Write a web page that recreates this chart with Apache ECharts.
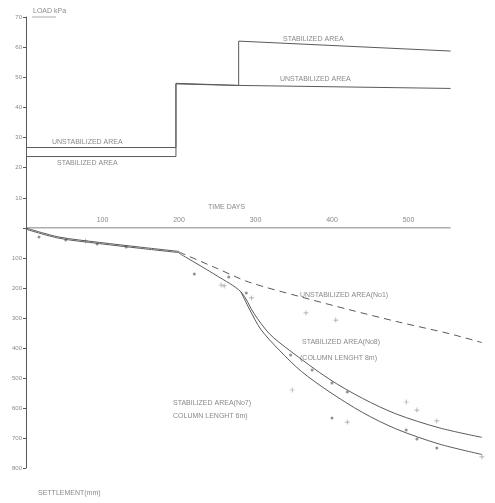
<!DOCTYPE html>
<html>
<head>
<meta charset="utf-8">
<script src="https://cdn.jsdelivr.net/npm/echarts@6/dist/echarts.min.js"></script>
<style>
  html, body { margin: 0; padding: 0; background: #fff; }
  #chart { width: 495px; height: 503px; }
</style>
</head>
<body>
<div id="chart"></div>
<script>
// load (kPa) vs time (days)
const loadUnstab = [[0, 26.7], [196, 26.7], [196, 48], [278, 47.3], [555, 46.3]];
const loadStab = [[0, 23.7], [196, 23.7], [196, 47.8], [278, 47.3], [278, 62], [555, 58.7]];
const timeLine = [[0, 0], [555, 0]];

// settlement (mm) vs time (days)
const settleEarlyA = [[0, 0], [43, 30], [96, 48], [150, 64], [200, 78]];
const settleEarlyB = [[0, 4], [43, 34], [96, 52], [150, 68], [200, 82]];
const settleNo1 = [[200, 80], [250, 135], [291, 180], [357, 228], [422, 272], [488, 314], [553, 352], [596, 382]];
const settleNo8 = [[200, 84], [250, 160], [281, 213], [298, 285], [318, 352], [344, 407], [396, 503], [440, 568], [484, 620], [540, 666], [596, 698]];
const settleNo7 = [[281, 213], [292, 270], [307, 338], [331, 407], [360, 478], [396, 545], [440, 615], [484, 670], [540, 720], [596, 755]];

const dotPoints = [[17, 30], [52, 40], [93, 53], [131, 63], [220, 153], [265, 163], [288, 217],
  [346, 423], [374, 473], [400, 517], [420, 547], [400, 633], [497, 673], [511, 703], [537, 733]];
const crossPoints = [[78, 43], [255, 190], [259, 193], [295, 233], [366, 283], [405, 307],
  [348, 540], [420, 647], [497, 580], [511, 607], [537, 643], [596, 763]];

const loadTicks = [10, 20, 30, 40, 50, 60, 70];
const settleTicks = [100, 200, 300, 400, 500, 600, 700, 800];
const dayTicks = [100, 200, 300, 400, 500];

const lineCol = '#5a5a5a';
const textCol = '#8a8a8a';
const font = 'Liberation Sans';

const cross = 'path://M0,4.3h10v1.4h-10zM4.3,0h1.4v10h-1.4z';

function txt(x, y, s, extra) {
  return Object.assign({
    type: 'text', left: x, top: y,
    style: { text: s, fill: textCol, font: '7px ' + font }
  }, extra || {});
}

const chart = echarts.init(document.getElementById('chart'));
chart.setOption({
  animation: false,
  backgroundColor: '#fff',
  grid: [
    { left: 26, width: 459, top: 17, height: 211 },
    { left: 26, width: 459, top: 228, height: 240 }
  ],
  xAxis: [
    {
      gridIndex: 0, type: 'value', min: 0, max: 600, interval: 100,
      axisLine: { show: false }, axisTick: { show: false }, splitLine: { show: false },
      axisLabel: {
        inside: true, margin: 4, color: textCol, fontSize: 7, fontFamily: font,
        formatter: v => dayTicks.includes(v) ? String(v) : ''
      }
    },
    {
      gridIndex: 1, type: 'value', min: 0, max: 600, show: false
    }
  ],
  yAxis: [
    {
      gridIndex: 0, type: 'value', min: 0, max: 70, interval: 10,
      axisLine: { show: true, lineStyle: { color: lineCol, width: 1 } },
      axisTick: { show: true, length: 3, lineStyle: { color: lineCol } },
      splitLine: { show: false },
      axisLabel: {
        margin: 4, color: textCol, fontSize: 6, fontFamily: font,
        formatter: v => loadTicks.includes(v) ? String(v) : ''
      }
    },
    {
      gridIndex: 1, type: 'value', min: 0, max: 800, interval: 100, inverse: true,
      axisLine: { show: true, lineStyle: { color: lineCol, width: 1 } },
      axisTick: { show: true, length: 3, lineStyle: { color: lineCol } },
      splitLine: { show: false },
      axisLabel: {
        margin: 4, color: textCol, fontSize: 6, fontFamily: font,
        formatter: v => settleTicks.includes(v) ? String(v) : ''
      }
    }
  ],
  series: [
    { type: 'line', xAxisIndex: 0, yAxisIndex: 0, data: timeLine, symbol: 'none',
      lineStyle: { color: lineCol, width: 1 } },
    { type: 'line', xAxisIndex: 0, yAxisIndex: 0, data: loadUnstab, symbol: 'none',
      lineStyle: { color: lineCol, width: 1 } },
    { type: 'line', xAxisIndex: 0, yAxisIndex: 0, data: loadStab, symbol: 'none',
      lineStyle: { color: lineCol, width: 1 } },
    { type: 'line', xAxisIndex: 1, yAxisIndex: 1, data: settleEarlyA, symbol: 'none', smooth: 0.3,
      lineStyle: { color: lineCol, width: 1 } },
    { type: 'line', xAxisIndex: 1, yAxisIndex: 1, data: settleEarlyB, symbol: 'none', smooth: 0.3,
      lineStyle: { color: lineCol, width: 1 } },
    { type: 'line', xAxisIndex: 1, yAxisIndex: 1, data: settleNo1, symbol: 'none', smooth: 0.3,
      lineStyle: { color: lineCol, width: 1, type: [7, 5] } },
    { type: 'line', xAxisIndex: 1, yAxisIndex: 1, data: settleNo8, symbol: 'none', smooth: 0.3,
      lineStyle: { color: lineCol, width: 1 } },
    { type: 'line', xAxisIndex: 1, yAxisIndex: 1, data: settleNo7, symbol: 'none', smooth: 0.3,
      lineStyle: { color: lineCol, width: 1 } },
    { type: 'scatter', xAxisIndex: 1, yAxisIndex: 1, data: dotPoints, symbol: 'circle', symbolSize: 3,
      itemStyle: { color: '#777' } },
    { type: 'scatter', xAxisIndex: 1, yAxisIndex: 1, data: crossPoints, symbol: cross, symbolSize: 5,
      itemStyle: { color: '#888' } }
  ],
  graphic: [
    txt(33, 8, 'LOAD kPa'),
    { type: 'line', shape: { x1: 32, y1: 17, x2: 56, y2: 17 }, style: { stroke: '#aaa', lineWidth: 1 } },
    txt(283, 36, 'STABILIZED AREA'),
    txt(280, 76, 'UNSTABILIZED AREA'),
    txt(52, 139, 'UNSTABILIZED AREA'),
    txt(57, 160, 'STABILIZED AREA'),
    txt(208, 204, 'TIME DAYS'),
    txt(300, 292, 'UNSTABILIZED AREA(No1)'),
    txt(302, 339, 'STABILIZED AREA(No8)'),
    txt(300, 355, '(COLUMN LENGHT 8m)'),
    txt(173, 400, 'STABILIZED AREA(No7)'),
    txt(173, 413, 'COLUMN LENGHT 6m)'),
    txt(38, 490, 'SETTLEMENT(mm)')
  ]
});
</script>
</body>
</html>
